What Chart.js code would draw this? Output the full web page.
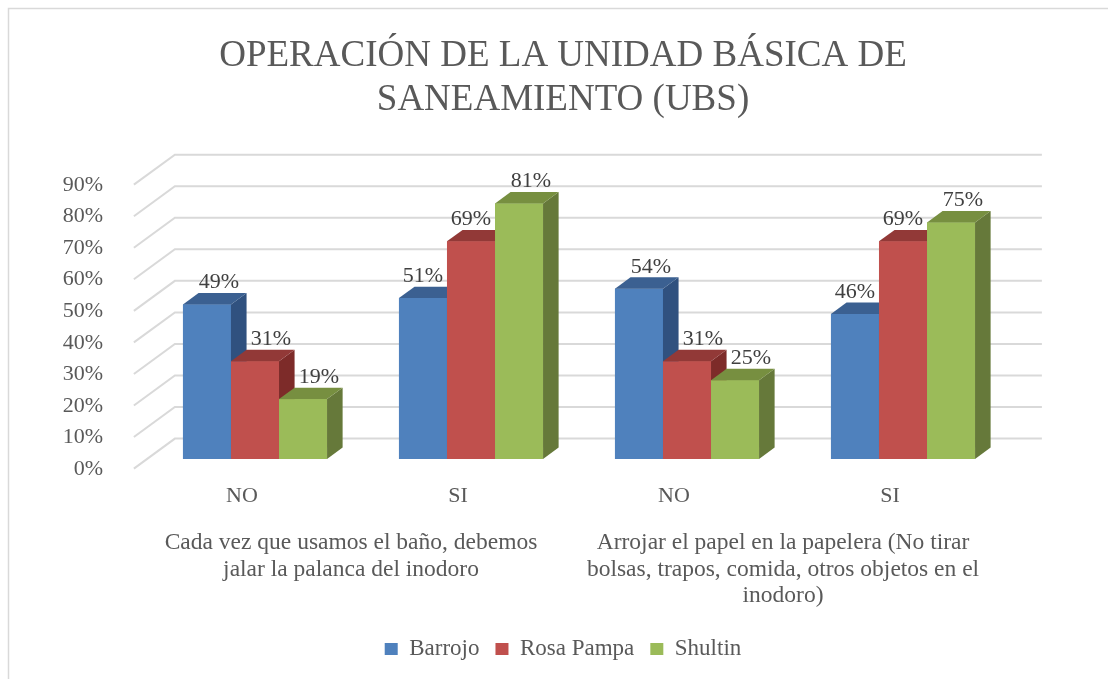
<!DOCTYPE html>
<html>
<head>
<meta charset="utf-8">
<title>Operación de la UBS</title>
<script src="https://cdn.jsdelivr.net/npm/chart.js@4.4.1/dist/chart.umd.min.js"></script>
<style>
  html, body { margin: 0; padding: 0; background: #fff; overflow: hidden; }
  #wrap { position: relative; width: 1108px; height: 679px; }
</style>
</head>
<body>
<div id="wrap"><canvas id="myChart"></canvas></div>
<script>
// data
const categories = ['NO', 'SI', 'NO', 'SI'];
const groups = [
  ['Cada vez que usamos el baño, debemos', 'jalar la palanca del inodoro'],
  ['Arrojar el papel en la papelera (No tirar', 'bolsas, trapos, comida, otros objetos en el', 'inodoro)']
];
const barrojo = [49, 51, 54, 46];
const rosaPampa = [31, 69, 31, 69];
const shultin = [19, 81, 25, 75];
const yMax = 90;
const yStep = 10;

const FONT = "'Times New Roman', 'Liberation Serif', serif";
const TEXT = '#595959';

// fake 3d: full floor depth, where the bar faces sit, how deep a bar is
const depth = { dx: 41, dy: 30, front: 0.32, bar: 0.38 };

const shades = [
  { front: '#4F81BD', top: '#3B6091', side: '#30517F' },
  { front: '#C0504D', top: '#923937', side: '#7D2B29' },
  { front: '#9BBB59', top: '#778F40', side: '#66793A' }
];

const box3d = {
  id: 'box3d',
  beforeDraw(chart) {
    const ctx = chart.ctx;
    ctx.save();
    ctx.fillStyle = '#fff';
    ctx.fillRect(0, 0, chart.width, chart.height);
    ctx.strokeStyle = '#D9D9D9';
    ctx.lineWidth = 1.5;
    ctx.beginPath();
    ctx.moveTo(8.5, chart.height);
    ctx.lineTo(8.5, 8.5);
    ctx.lineTo(chart.width, 8.5);
    ctx.stroke();
    ctx.restore();
  },
  beforeDatasetsDraw(chart) {
    const { ctx, chartArea: a, scales: { y } } = chart;
    const fx = -depth.dx * depth.front, fy = depth.dy * depth.front;
    const bx = depth.dx * (1 - depth.front), by = -depth.dy * (1 - depth.front);
    ctx.save();
    ctx.strokeStyle = '#D9D9D9';
    ctx.lineWidth = 2;
    y.ticks.forEach(t => {
      const py = y.getPixelForValue(t.value);
      ctx.beginPath();
      ctx.moveTo(a.left + fx, py + fy);
      ctx.lineTo(a.left + bx, py + by);
      ctx.lineTo(a.right + bx + 3, py + by);
      ctx.stroke();
    });
    ctx.restore();
  },
  afterDatasetsDraw(chart) {
    const ctx = chart.ctx;
    const dx = depth.dx * depth.bar, dy = depth.dy * depth.bar;
    const sets = chart.data.datasets;
    ctx.save();
    for (let i = 0; i < chart.data.labels.length; i++) {
      sets.forEach((ds, d) => {
        const el = chart.getDatasetMeta(d).data[i];
        const { x, y, base, width } = el.getProps(['x', 'y', 'base', 'width'], true);
        const l = x - width / 2, r = x + width / 2;
        const c = shades[d];
        ctx.fillStyle = c.front;
        ctx.fillRect(l, y, width, base - y);
        ctx.fillStyle = c.side;
        ctx.beginPath();
        ctx.moveTo(r, y);
        ctx.lineTo(r + dx, y - dy);
        ctx.lineTo(r + dx, base - dy);
        ctx.lineTo(r, base);
        ctx.closePath();
        ctx.fill();
        ctx.fillStyle = c.top;
        ctx.beginPath();
        ctx.moveTo(l, y);
        ctx.lineTo(l + dx, y - dy);
        ctx.lineTo(r + dx, y - dy);
        ctx.lineTo(r, y);
        ctx.closePath();
        ctx.fill();
      });
    }
    // value labels, nudged away from a taller neighbour like excel does
    ctx.font = '22px ' + FONT;
    ctx.fillStyle = '#404040';
    ctx.textAlign = 'center';
    ctx.textBaseline = 'alphabetic';
    sets.forEach((ds, d) => {
      chart.getDatasetMeta(d).data.forEach((el, i) => {
        const v = ds.data[i];
        let off = 12;
        if (sets[d + 1] && sets[d + 1].data[i] > v) off = 0;
        if (sets[d - 1] && sets[d - 1].data[i] > v) off = 16;
        ctx.fillText(v + '%', el.x + off, el.y - 16);
      });
    });
    ctx.restore();
  }
};

const data = {
  labels: categories,
  datasets: [
    { label: 'Barrojo', data: barrojo, backgroundColor: shades[0].front },
    { label: 'Rosa Pampa', data: rosaPampa, backgroundColor: shades[1].front },
    { label: 'Shultin', data: shultin, backgroundColor: shades[2].front }
  ]
};

const config = {
  type: 'bar',
  data: data,
  options: {
    responsive: true,
    maintainAspectRatio: false,
    animation: false,
    datasets: { bar: { categoryPercentage: 0.667, barPercentage: 1, borderWidth: 0 } },
    layout: { padding: { left: 18, right: 0, top: 0, bottom: 8.5 } },
    plugins: {
      title: {
        display: true,
        text: ['OPERACIÓN DE LA UNIDAD BÁSICA DE', 'SANEAMIENTO (UBS)'],
        color: TEXT,
        font: { family: FONT, size: 37, weight: 'normal', lineHeight: 1.19 },
        padding: { top: 34, bottom: 53 }
      },
      legend: {
        position: 'bottom',
        labels: { color: TEXT, font: { family: FONT, size: 23 }, boxWidth: 13, boxHeight: 12, padding: 16 }
      },
      tooltip: { enabled: false }
    },
    scales: {
      x: {
        grid: { display: false },
        border: { display: false },
        ticks: { color: TEXT, font: { family: FONT, size: 22 }, padding: 16, labelOffset: -13 },
        afterFit(s) { s.height = 60; }
      },
      x2: {
        type: 'category',
        labels: groups,
        position: 'bottom',
        offset: true,
        grid: { display: false },
        border: { display: false },
        ticks: { color: TEXT, font: { family: FONT, size: 23.5, lineHeight: 1.12 }, padding: 3, labelOffset: -12, autoSkip: false, maxRotation: 0 },
        afterFit(s) { s.height = 102.5; }
      },
      y: {
        min: 0,
        max: yMax,
        grid: { display: false },
        border: { display: false },
        ticks: { stepSize: yStep, callback: v => v + '%', color: TEXT, font: { family: FONT, size: 22 }, padding: 36, labelOffset: 10 },
        afterFit(s) { s.width = 129; }
      },
      yR: {
        position: 'right',
        grid: { display: false },
        border: { display: false },
        ticks: { display: false },
        afterFit(s) { s.width = 97; }
      }
    }
  },
  plugins: [box3d]
};

const myChart = new Chart(document.getElementById('myChart'), config);
</script>
</body>
</html>
